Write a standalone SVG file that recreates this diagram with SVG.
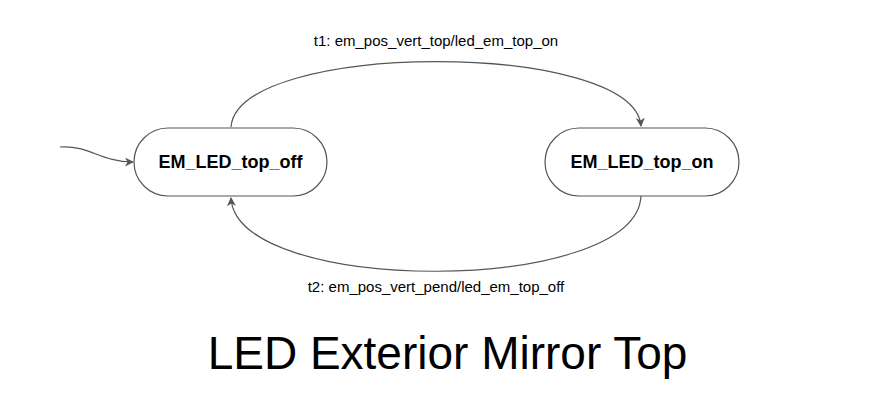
<svg xmlns="http://www.w3.org/2000/svg" width="879" height="414" viewBox="0 0 879 414">
<style>
.node{fill:#fff;stroke:#555;stroke-width:1.2}
.nt{font-family:"Liberation Sans",Arial,sans-serif;font-weight:bold;font-size:18px;fill:#000;text-anchor:middle}
.lbl{font-family:"Liberation Sans",Arial,sans-serif;font-size:15px;fill:#000;text-anchor:middle}
.edge{fill:none;stroke:#555;stroke-width:1.2;marker-end:url(#arr)}
.title{font-family:"Liberation Sans",Arial,sans-serif;font-size:46px;fill:#000;text-anchor:middle}
</style>
<defs>
<marker id="arr" viewBox="0 0 10 10" refX="9" refY="5" markerWidth="9" markerHeight="9" markerUnits="userSpaceOnUse" orient="auto">
<path d="M0,0 L10,5 L0,10 L3,5 Z" fill="#555"/>
</marker>
</defs>
<g id="connectors">
<path class="edge" d="M60,147 C90,145 100,162 133,162"/>
<path class="edge" d="M231,127 C238,40 634,40 641,126"/>
<path class="edge" d="M641,196 C636,296 236,296 231,198"/>
<text class="lbl" x="436" y="46">t1: em_pos_vert_top/led_em_top_on</text>
<text class="lbl" x="436" y="292">t2: em_pos_vert_pend/led_em_top_off</text>
</g>
<g id="EM_LED_top_off">
<rect class="node" x="134" y="128" width="193" height="68" rx="34"/>
<text class="nt" x="230.5" y="168">EM_LED_top_off</text>
</g>
<g id="EM_LED_top_on">
<rect class="node" x="545" y="128" width="194" height="68" rx="34"/>
<text class="nt" x="642" y="168">EM_LED_top_on</text>
</g>
<text class="title" x="447.5" y="369">LED Exterior Mirror Top</text>
</svg>
